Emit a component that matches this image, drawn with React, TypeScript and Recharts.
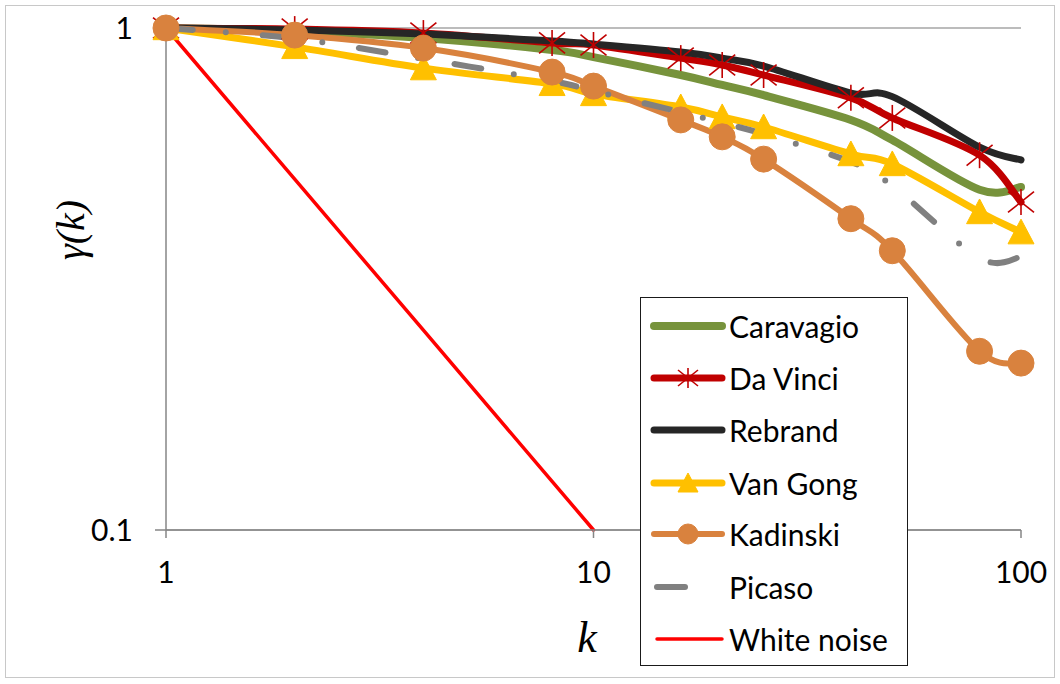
import React from 'react';
import { LineChart, Line, XAxis, YAxis, CartesianGrid, Legend } from 'recharts';

const kValues = [1, 2, 4, 8, 10, 16, 20, 25, 40, 50, 80, 100];
const caravagio = [1, 0.986, 0.955, 0.904, 0.875, 0.806, 0.77, 0.735, 0.656, 0.598, 0.476, 0.482];
const daVinci = [1, 0.995, 0.977, 0.934, 0.925, 0.871, 0.844, 0.806, 0.726, 0.662, 0.558, 0.45];
const rebrand = [1, 0.991, 0.973, 0.942, 0.929, 0.896, 0.871, 0.84, 0.742, 0.73, 0.579, 0.546];
const vanGong = [1, 0.917, 0.832, 0.774, 0.739, 0.696, 0.665, 0.635, 0.561, 0.536, 0.43, 0.392];
const kadinski = [1, 0.968, 0.912, 0.817, 0.766, 0.656, 0.607, 0.548, 0.417, 0.36, 0.227, 0.215];
const picaso = [1, 0.953, 0.868, 0.784, 0.749, 0.68, 0.647, 0.615, 0.541, 0.485, 0.348, 0.35];
const whiteNoise = [1, 0.5, 0.25, 0.125, 0.1, null, null, null, null, null, null, null];

const xTicks = [1, 10, 100];
const yTicks = [0.1, 1];

const data = kValues.map((k, i) => ({
  k,
  caravagio: caravagio[i],
  daVinci: daVinci[i],
  rebrand: rebrand[i],
  vanGong: vanGong[i],
  kadinski: kadinski[i],
  picaso: picaso[i],
  whiteNoise: whiteNoise[i],
}));

// Excel-like smoothed line (Catmull-Rom style Bezier through every point)
const smoothCurve = (context: any) => {
  let pts: number[][] = [];
  const draw = () => {
    if (!pts.length) return;
    context.moveTo(pts[0][0], pts[0][1]);
    for (let i = 0; i < pts.length - 1; i++) {
      const p0 = pts[i - 1] || pts[i];
      const p1 = pts[i];
      const p2 = pts[i + 1];
      const p3 = pts[i + 2] || p2;
      const c1x = p1[0] + (p2[0] - p0[0]) / 6;
      const c1y = p1[1] + (p2[1] - p0[1]) / 6;
      const c2x = p2[0] - (p3[0] - p1[0]) / 6;
      const c2y = p2[1] - (p3[1] - p1[1]) / 6;
      context.bezierCurveTo(c1x, c1y, c2x, c2y, p2[0], p2[1]);
    }
  };
  return {
    areaStart() {},
    areaEnd() {},
    lineStart() {
      pts = [];
    },
    lineEnd() {
      draw();
      pts = [];
    },
    point(x: number, y: number) {
      pts.push([+x, +y]);
    },
  };
};

type Marker = 'none' | 'star' | 'triangle' | 'circle';
interface Series {
  key: string;
  name: string;
  color: string;
  width: number;
  marker: Marker;
  dash?: string;
  smooth: boolean;
}

const series: Series[] = [
  { key: 'caravagio', name: 'Caravagio', color: '#77933C', width: 8, marker: 'none', smooth: true },
  { key: 'daVinci', name: 'Da Vinci', color: '#C00000', width: 7, marker: 'star', smooth: true },
  { key: 'rebrand', name: 'Rebrand', color: '#262626', width: 7, marker: 'none', smooth: true },
  { key: 'vanGong', name: 'Van Gong', color: '#FFC000', width: 7, marker: 'triangle', smooth: true },
  { key: 'kadinski', name: 'Kadinski', color: '#D9823E', width: 6, marker: 'circle', smooth: true },
  { key: 'picaso', name: 'Picaso', color: '#808080', width: 6, marker: 'none', dash: '27 33 0 37', smooth: true },
  { key: 'whiteNoise', name: 'White noise', color: '#FF0000', width: 3.5, marker: 'none', smooth: false },
];

function drawMarker(marker: Marker, color: string, cx: number, cy: number, size: number, key?: string) {
  const h = size / 2;
  if (marker === 'star') {
    return (
      <g key={key} stroke={color} strokeWidth={1.6} fill="none">
        <line x1={cx} y1={cy - h} x2={cx} y2={cy + h} />
        <line x1={cx - h} y1={cy - h * 0.8} x2={cx + h} y2={cy + h * 0.8} />
        <line x1={cx - h} y1={cy + h * 0.8} x2={cx + h} y2={cy - h * 0.8} />
      </g>
    );
  }
  if (marker === 'triangle') {
    return (
      <polygon
        key={key}
        points={`${cx},${cy - h} ${cx - h},${cy + h * 0.9} ${cx + h},${cy + h * 0.9}`}
        fill={color}
        stroke={color}
        strokeWidth={1}
      />
    );
  }
  if (marker === 'circle') {
    return <circle key={key} cx={cx} cy={cy} r={h} fill={color} stroke={color} strokeWidth={1} />;
  }
  return <g key={key} />;
}

const makeDot = (s: Series) => {
  if (s.marker === 'none') return false;
  return (props: any) => {
    const { cx, cy, index } = props;
    if (cx == null || cy == null || Number.isNaN(cy)) return <g key={`${s.key}-${index}`} />;
    return drawMarker(s.marker, s.color, cx, cy, 26, `${s.key}-${index}`);
  };
};

const rowCenters = [28, 80, 132, 185, 236, 289, 341];

const LegendBox = () => (
  <div
    style={{
      width: 268,
      height: 369,
      boxSizing: 'border-box',
      border: '1.5px solid #1a1a1a',
      background: '#fff',
      position: 'relative',
    }}
  >
    {series.map((s, i) => (
      <div
        key={s.key}
        style={{
          position: 'absolute',
          left: 0,
          top: rowCenters[i] - 20,
          height: 40,
          display: 'flex',
          alignItems: 'center',
        }}
      >
        <svg width={88} height={40} style={{ display: 'block' }}>
          {s.key === 'picaso' ? (
            <line x1={16} y1={20} x2={44} y2={20} stroke={s.color} strokeWidth={s.width} strokeLinecap="round" />
          ) : (
            <line
              x1={s.key === 'whiteNoise' ? 16 : 13}
              y1={20}
              x2={81}
              y2={20}
              stroke={s.color}
              strokeWidth={s.width}
              strokeLinecap="round"
            />
          )}
          {drawMarker(s.marker, s.color, 47, 20, 20)}
        </svg>
        <span style={{ fontFamily: 'Lato', fontSize: 30, color: '#000', lineHeight: '40px', whiteSpace: 'nowrap' }}>
          {s.name}
        </span>
      </div>
    ))}
  </div>
);

export default function App() {
  return (
    <div style={{ position: 'absolute', left: 0, top: 0, width: 1060, height: 684, background: '#fff' }}>
      <div
        style={{
          position: 'absolute',
          left: 5,
          top: 5,
          width: 1050,
          height: 673,
          boxSizing: 'border-box',
          border: '1.5px solid #C8C8C8',
        }}
      />
      <div style={{ position: 'absolute', left: 0, top: 0 }}>
        <LineChart width={1060} height={684} data={data} margin={{ top: 28, right: 39, left: 60, bottom: 74 }}>
          <CartesianGrid vertical={false} stroke="#A6A6A6" strokeWidth={1.5} />
          <XAxis
            dataKey="k"
            type="number"
            scale="log"
            domain={[1, 100]}
            ticks={xTicks}
            height={80}
            stroke="#868686"
            strokeWidth={1.5}
            tickSize={8}
            tickMargin={24}
            tick={{ fontFamily: 'Lato', fontSize: 30, fill: '#000' }}
            tickFormatter={(v: number) => String(v)}
          />
          <YAxis
            type="number"
            scale="log"
            domain={[0.1, 1]}
            ticks={yTicks}
            width={106}
            stroke="#868686"
            strokeWidth={1.5}
            tickSize={11}
            tickMargin={22}
            tick={{ fontFamily: 'Lato', fontSize: 30, fill: '#000' }}
            tickFormatter={(v: number) => String(v)}
          />
          <Legend
            layout="horizontal"
            verticalAlign="middle"
            align="center"
            content={() => <LegendBox />}
            wrapperStyle={{ position: 'absolute', left: 640, top: 297, width: 268, height: 369 }}
          />
          {series.map((s) => (
            <Line
              key={s.key}
              dataKey={s.key}
              name={s.name}
              type={(s.smooth ? smoothCurve : 'linear') as any}
              stroke={s.color}
              strokeWidth={s.width}
              strokeDasharray={s.dash}
              strokeLinecap="round"
              strokeLinejoin="round"
              dot={makeDot(s) as any}
              activeDot={false}
              isAnimationActive={false}
              connectNulls={false}
            />
          ))}
        </LineChart>
      </div>
      <div
        style={{
          position: 'absolute',
          left: 70,
          top: 230,
          transform: 'translate(-50%, -50%) rotate(-90deg)',
          fontFamily: 'Liberation Serif',
          fontStyle: 'italic',
          fontSize: 40,
          whiteSpace: 'nowrap',
          color: '#000',
        }}
      >
        γ(k)
      </div>
      <div
        style={{
          position: 'absolute',
          left: 587,
          top: 637,
          transform: 'translate(-50%, -50%)',
          fontFamily: 'Liberation Serif',
          fontStyle: 'italic',
          fontSize: 44,
          whiteSpace: 'nowrap',
          color: '#000',
        }}
      >
        k
      </div>
    </div>
  );
}
